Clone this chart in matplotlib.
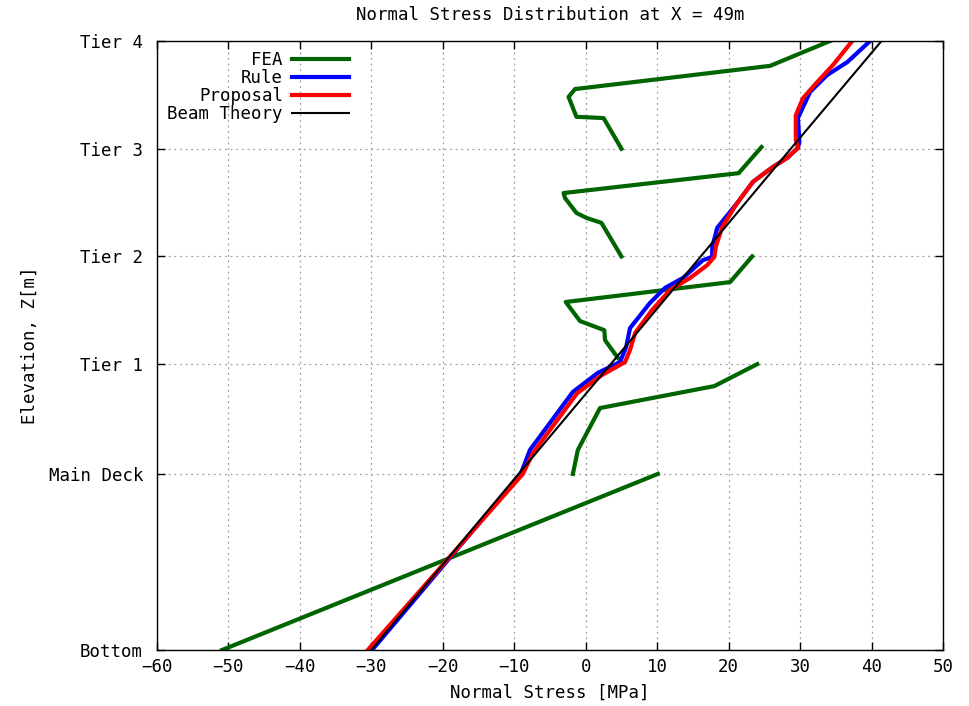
import numpy as np
import matplotlib
matplotlib.use("Agg")
import matplotlib.pyplot as plt

# Deck levels (elevation in m) and their labels
level_names = ["Bottom", "Main Deck", "Tier 1", "Tier 2", "Tier 3", "Tier 4"]
level_z = [0.0, 4.25, 6.9, 9.5, 12.1, 14.7]

# FEA results, one polyline per deck region (NaN breaks the line between regions)
fea_stress = [-50.9, 10.1, np.nan,
              -1.8, -1.1, 2.0, 18.0, 24.0, np.nan,
              4.5, 2.7, 2.6, -0.8, -2.8, 20.2, 23.3, np.nan,
              5.0, 2.2, 0.1, -1.3, -2.9, -3.1, 21.4, 24.6, np.nan,
              5.0, 2.5, -1.3, -2.4, -1.5, 25.8, 34.2]
fea_z = [0.0, 4.25, np.nan,
         4.25, 4.83, 5.84, 6.37, 6.9, np.nan,
         7.05, 7.48, 7.72, 7.94, 8.40, 8.88, 9.5, np.nan,
         9.5, 10.31, 10.43, 10.55, 10.91, 11.03, 11.51, 12.14, np.nan,
         12.1, 12.84, 12.87, 13.35, 13.54, 14.10, 14.7]

# Rule-based stress
rule_stress = [-29.9, -9.1, -7.8, -1.8, 1.7, 4.8, 5.65, 6.2, 9.0, 11.1, 13.6, 16.4,
               17.7, 17.7, 18.4, 21.2, 23.4, 26.2, 28.2, 29.7, 29.9, 29.7, 31.4,
               33.8, 36.6, 39.8]
rule_z = [0.0, 4.25, 4.83, 6.23, 6.69, 6.95, 7.31, 7.77, 8.38, 8.74, 8.98, 9.41,
          9.49, 9.73, 10.19, 10.79, 11.30, 11.66, 11.88, 12.12, 12.26, 12.84, 13.47,
          13.88, 14.19, 14.7]

# Proposed method
prop_stress = [-30.5, -8.8, -7.4, -1.2, 2.3, 5.5, 6.2, 6.9, 9.3, 11.8, 14.6, 17.0,
               18.0, 18.2, 19.1, 21.2, 23.4, 26.2, 28.2, 29.7, 29.4, 29.4, 30.4,
               32.4, 34.6, 37.3]
prop_z = [0.0, 4.25, 4.75, 6.20, 6.64, 6.95, 7.24, 7.65, 8.21, 8.69, 8.98, 9.29,
          9.49, 9.73, 10.21, 10.79, 11.30, 11.66, 11.88, 12.12, 12.31, 12.91, 13.32,
          13.71, 14.12, 14.7]

# Simple beam theory at each level
beam_stress = [-30.0, -9.4, 3.5, 16.1, 28.7, 41.4]
beam_z = level_z

x_ticks = list(range(-60, 51, 10))

plt.rcParams["font.family"] = ["DejaVu Sans Mono"]
fs = 12.5

fig = plt.figure(figsize=(9.70, 7.06), dpi=100)
ax = fig.add_axes([157 / 970, 1 - 650 / 706, (943 - 157) / 970, (650 - 41) / 706])

ax.plot(fea_stress, fea_z, color="#006400", lw=3.0, label="FEA")
ax.plot(rule_stress, rule_z, color="#0000ff", lw=3.0, label="Rule")
ax.plot(prop_stress, prop_z, color="#ff0000", lw=3.0, label="Proposal")
ax.plot(beam_stress, beam_z, color="#000000", lw=1.5, label="Beam Theory")

ax.set_xlim(-60, 50)
ax.set_ylim(level_z[0], level_z[-1])
ax.set_xticks(x_ticks)
ax.set_yticks(level_z)
ax.set_yticklabels(level_names)

ax.grid(True, color="#a0a0a0", linestyle=(0, (1.5, 3)), linewidth=0.9)
ax.tick_params(axis="both", direction="in", length=6, width=1.0, top=True, right=True,
               labelsize=fs, colors="black")
ax.tick_params(axis="x", pad=6)
ax.tick_params(axis="y", pad=10)
for sp in ax.spines.values():
    sp.set_linewidth(1.0)
    sp.set_color("black")

ax.set_xlabel("Normal Stress [MPa]", fontsize=fs, labelpad=5)
ax.set_ylabel("Elevation, Z[m]", fontsize=fs, labelpad=7)
ax.set_title("Normal Stress Distribution at X = 49m", fontsize=fs,
             y=1.0 + 26 / 609, va="center", pad=0)

ax.legend(loc="upper left", bbox_to_anchor=(0.0, 1.0), frameon=False,
          markerfirst=False, fontsize=fs, handlelength=3.3, handletextpad=0.5,
          labelspacing=0.0, borderaxespad=0.3, borderpad=0.3)

fig.savefig("out.png", dpi=100)
